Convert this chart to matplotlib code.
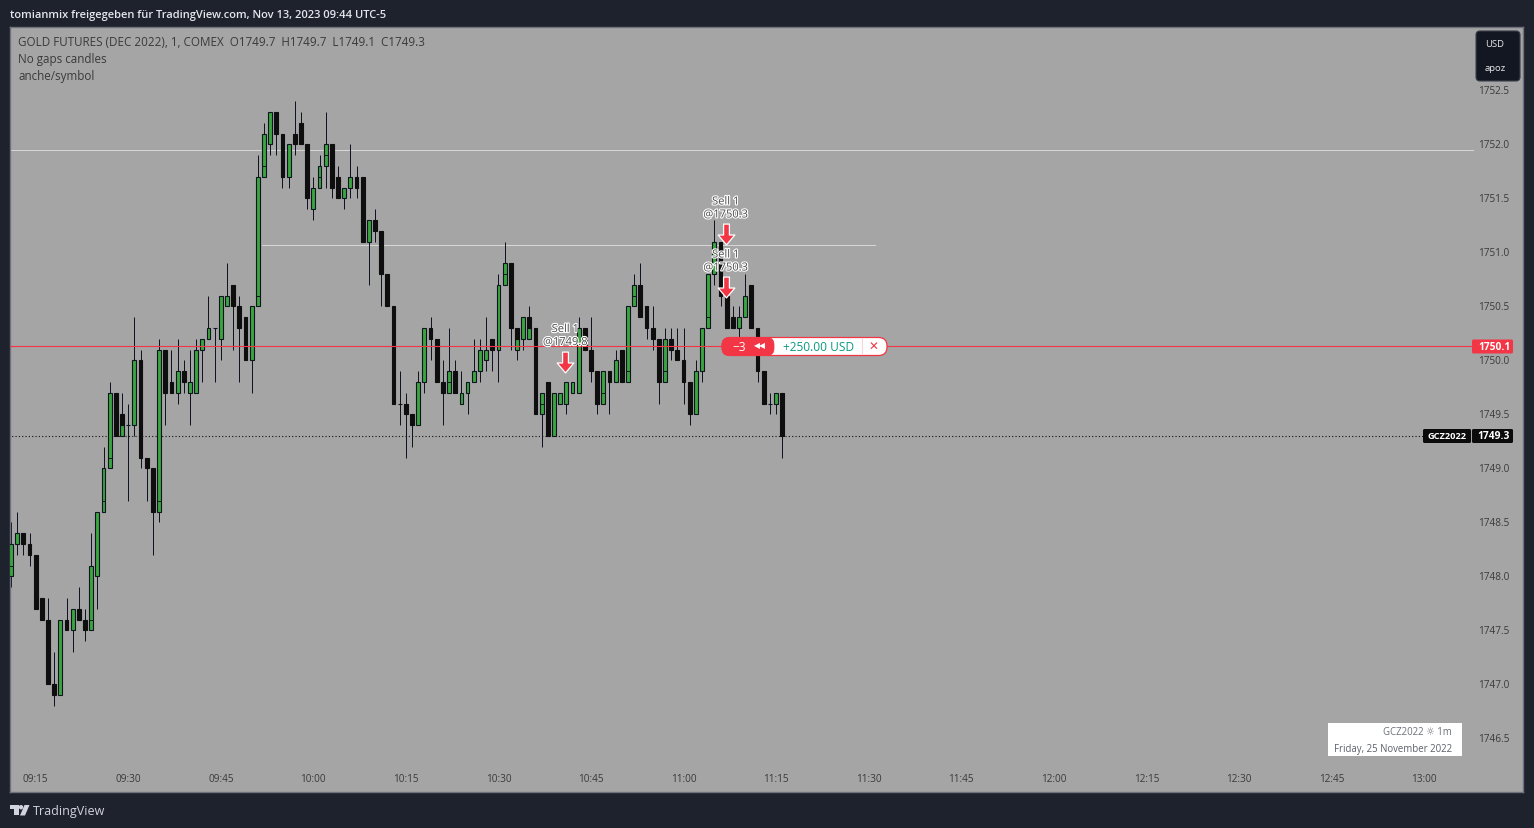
import matplotlib
matplotlib.use('Agg')
import matplotlib.pyplot as plt
import matplotlib.patheffects as pe
import matplotlib.transforms as mtrans
from matplotlib.path import Path
from matplotlib.patches import FancyBboxPatch, Polygon, Rectangle, Circle

plt.rcParams['font.family'] = ['Open Sans', 'DejaVu Sans']

W, H = 1534, 828

# one minute candles, first one is 09:11
opens = [1748.0, 1748.3, 1748.4, 1748.3, 1748.2, 1747.8, 1747.6, 1747.0, 1746.9, 1747.6,
         1747.5, 1747.7, 1747.6, 1747.5, 1748.0, 1748.6, 1749.0, 1749.7, 1749.5, 1749.4,
         1749.4, 1750.0, 1749.1, 1749.0, 1748.6, 1750.1, 1749.8, 1749.7, 1749.9, 1749.7,
         1749.7, 1750.1, 1750.2, 1750.3, 1750.2, 1750.5, 1750.7, 1750.5, 1750.4, 1750.0,
         1750.5, 1751.7, 1752.0, 1752.3, 1752.1, 1751.7, 1752.1, 1752.2, 1752.0, 1751.4,
         1751.6, 1751.8, 1752.0, 1751.7, 1751.5, 1751.6, 1751.7, 1751.7, 1751.1, 1751.3,
         1751.2, 1750.8, 1750.5, 1749.6, 1749.6, 1749.5, 1749.4, 1749.8, 1750.3, 1750.2,
         1749.8, 1749.7, 1749.9, 1749.6, 1749.7, 1749.8, 1749.9, 1750.0, 1750.2, 1750.1,
         1750.7, 1750.9, 1750.3, 1750.2, 1750.4, 1750.3, 1749.5, 1749.8, 1749.3, 1749.6,
         1749.6, 1749.7, 1749.7, 1750.3, 1750.1, 1749.9, 1749.6, 1749.9, 1749.8, 1750.1,
         1749.8, 1750.5, 1750.7, 1750.5, 1750.3, 1750.2, 1749.8, 1750.2, 1750.1, 1750.0,
         1749.8, 1749.5, 1749.9, 1750.3, 1750.8, 1751.1, 1750.6, 1750.4, 1750.3, 1750.4,
         1750.7, 1750.3, 1749.9, 1749.6, 1749.6, 1749.7]
highs = [1748.5, 1748.6, 1748.4, 1748.4, 1748.2, 1747.8, 1747.8, 1747.3, 1747.6, 1747.8,
         1747.7, 1747.9, 1747.7, 1748.4, 1748.6, 1749.2, 1749.8, 1749.7, 1749.7, 1749.6,
         1750.4, 1750.1, 1749.1, 1749.0, 1750.2, 1750.1, 1750.1, 1750.2, 1750.0, 1750.1,
         1750.2, 1750.2, 1750.6, 1750.3, 1750.6, 1750.9, 1750.7, 1750.6, 1750.4, 1750.5,
         1751.9, 1752.2, 1752.3, 1752.3, 1752.1, 1752.0, 1752.4, 1752.3, 1752.0, 1751.7,
         1751.9, 1752.3, 1752.0, 1751.8, 1751.6, 1752.0, 1751.8, 1751.7, 1751.3, 1751.4,
         1751.2, 1750.8, 1750.5, 1749.9, 1749.7, 1749.5, 1749.9, 1750.3, 1750.4, 1750.2,
         1750.0, 1750.3, 1750.0, 1749.9, 1749.8, 1750.2, 1750.2, 1750.4, 1750.2, 1750.8,
         1751.1, 1750.9, 1750.3, 1750.4, 1750.5, 1750.3, 1749.7, 1749.8, 1749.7, 1749.7,
         1749.8, 1749.8, 1750.4, 1750.3, 1750.4, 1749.9, 1749.9, 1749.9, 1750.1, 1750.1,
         1750.5, 1750.8, 1750.9, 1750.5, 1750.5, 1750.2, 1750.3, 1750.3, 1750.3, 1750.3,
         1749.8, 1750.0, 1750.3, 1750.8, 1751.3, 1751.1, 1750.6, 1750.5, 1750.5, 1750.8,
         1750.7, 1750.3, 1749.9, 1749.7, 1749.7, 1749.7]
lows = [1747.9, 1748.2, 1748.2, 1748.1, 1747.7, 1747.6, 1747.0, 1746.8, 1746.9, 1747.5,
        1747.3, 1747.6, 1747.4, 1747.5, 1747.7, 1748.6, 1749.0, 1749.3, 1749.3, 1748.7,
        1749.3, 1749.0, 1748.7, 1748.2, 1748.5, 1749.4, 1749.7, 1749.6, 1749.7, 1749.4,
        1749.7, 1749.8, 1750.2, 1749.8, 1750.0, 1750.5, 1750.1, 1749.8, 1750.0, 1749.7,
        1750.5, 1751.7, 1751.9, 1751.9, 1751.6, 1751.6, 1751.9, 1752.0, 1751.4, 1751.3,
        1751.6, 1751.6, 1751.5, 1751.5, 1751.4, 1751.5, 1751.5, 1751.1, 1750.7, 1751.1,
        1750.5, 1750.5, 1749.6, 1749.4, 1749.1, 1749.2, 1749.4, 1749.7, 1750.0, 1749.8,
        1749.4, 1749.7, 1749.7, 1749.6, 1749.5, 1749.8, 1749.8, 1749.9, 1749.9, 1749.8,
        1750.7, 1750.1, 1750.0, 1750.1, 1750.3, 1749.5, 1749.2, 1749.3, 1749.3, 1749.6,
        1749.5, 1749.7, 1749.7, 1750.1, 1749.8, 1749.5, 1749.6, 1749.5, 1749.8, 1749.8,
        1749.8, 1750.5, 1750.4, 1750.2, 1750.1, 1749.6, 1749.8, 1750.0, 1750.0, 1749.6,
        1749.4, 1749.5, 1749.8, 1750.3, 1750.7, 1750.5, 1750.3, 1750.3, 1750.2, 1750.4,
        1750.3, 1749.8, 1749.6, 1749.5, 1749.5, 1749.1]
closes = [1748.3, 1748.4, 1748.3, 1748.2, 1747.7, 1747.6, 1747.0, 1746.9, 1747.6, 1747.5,
          1747.7, 1747.6, 1747.5, 1748.1, 1748.6, 1749.0, 1749.7, 1749.3, 1749.4, 1749.4,
          1750.0, 1749.1, 1749.0, 1748.6, 1750.1, 1749.7, 1749.7, 1749.9, 1749.8, 1749.8,
          1750.1, 1750.2, 1750.3, 1750.3, 1750.6, 1750.6, 1750.5, 1750.3, 1750.0, 1750.5,
          1751.7, 1752.1, 1752.3, 1752.1, 1751.7, 1752.0, 1752.0, 1752.0, 1751.5, 1751.6,
          1751.8, 1752.0, 1751.6, 1751.5, 1751.6, 1751.7, 1751.6, 1751.1, 1751.3, 1751.2,
          1750.8, 1750.5, 1749.6, 1749.6, 1749.5, 1749.4, 1749.8, 1750.3, 1750.2, 1749.8,
          1749.7, 1749.9, 1749.7, 1749.7, 1749.8, 1749.9, 1750.1, 1750.1, 1750.1, 1750.7,
          1750.9, 1750.3, 1750.2, 1750.4, 1750.3, 1749.5, 1749.7, 1749.3, 1749.7, 1749.7,
          1749.8, 1749.8, 1750.3, 1750.1, 1749.9, 1749.6, 1749.9, 1749.8, 1750.0, 1749.8,
          1750.5, 1750.7, 1750.4, 1750.3, 1750.2, 1749.8, 1750.2, 1750.1, 1750.0, 1749.8,
          1749.5, 1749.9, 1750.3, 1750.8, 1751.1, 1750.6, 1750.3, 1750.3, 1750.4, 1750.6,
          1750.3, 1749.9, 1749.6, 1749.6, 1749.7, 1749.3]

# the real candles peeking out under the no gaps ones
under_idx = [18, 82, 84]
under_open = [1749.3, 1750.1, 1750.2]
under_close = [1749.4, 1750.2, 1750.3]
inner_idx = [0, 13, 15, 16, 24, 40, 41, 50, 51, 71, 80, 86, 96, 100, 101, 106, 113]
inner_price = [1748.1, 1747.6, 1748.7, 1749.1, 1748.7, 1750.6, 1751.8, 1751.7, 1751.9,
               1749.8, 1750.8, 1749.6, 1749.7, 1749.9, 1750.6, 1749.9, 1750.4]

price_ticks = [1746.5, 1747.0, 1747.5, 1748.0, 1748.5, 1749.0, 1749.5, 1750.0,
               1750.5, 1751.0, 1751.5, 1752.0, 1752.5]
time_idx = [4, 19, 34, 49, 64, 79, 94, 109, 124, 139, 154, 169, 184, 199, 214, 229]
time_labels = ['09:15', '09:30', '09:45', '10:00', '10:15', '10:30', '10:45', '11:00',
               '11:15', '11:30', '11:45', '12:00', '12:15', '12:30', '12:45', '13:00']

level_top = 1751.95
level_mid = 1751.065
level_mid_from = 40.7
level_mid_to = 140
position_price = 1750.13
last_price = 1749.3
line_end = 237

sell_idx = [90, 116, 116]
sell_pos = [1749.986, 1751.167, 1750.676]
sell_labels = ['Sell 1\n@1749.8', 'Sell 1\n@1750.3', 'Sell 1\n@1750.3']

GREEN = '#3aa63e'
DARK = '#0e0e0e'
EDGE = '#0f1420'
BG = '#1e222d'
PANE = '#a5a5a5'
RED = '#f23645'
TEAL = '#089981'
TXT = '#3a3a3a'

# 8.28*100 floors to 827 px, so nudge the size a bit
fig = plt.figure(figsize=((W + 0.01) / 100, (H + 0.01) / 100), dpi=100, facecolor=BG)
ax = fig.add_axes([10 / W, (H - 792.5) / H, (1523 - 10) / W, (792.5 - 27) / H])
ax.set_facecolor(PANE)
ax.set_xlim(-1 / 6.17, (1523 - 11) / 6.17)
ax.set_ylim(1750 - 432 / 108, 1750 + 333.5 / 108)
for s in ax.spines.values():
    s.set_color('#6f727c')
    s.set_linewidth(1)

ax.yaxis.tick_right()
ax.set_yticks(price_ticks)
ax.set_yticklabels(['%.1f' % p for p in price_ticks])
ax.tick_params(axis='y', length=0, pad=-32, labelsize=7.2, labelcolor=TXT)
ax.set_xticks(time_idx)
ax.set_xticklabels(time_labels)
ax.tick_params(axis='x', length=0, pad=-13.5, labelsize=7.2, labelcolor=TXT)
lift = mtrans.Affine2D().translate(0, 0.5)
for t in ax.get_yticklabels():
    t.set_transform(t.get_transform() + lift)

ax.plot([-1, line_end], [level_top, level_top], color='#d6d6d6', lw=0.72, zorder=1)
ax.plot([level_mid_from, level_mid_to], [level_mid, level_mid], color='#d6d6d6', lw=0.72, zorder=1)
ax.plot([-1, 228.8], [last_price, last_price], color='#111111', lw=0.8, ls=(0, (1, 2)), zorder=1)

xs = list(range(len(opens)))
ax.vlines(xs, lows, highs, color=EDGE, lw=0.72, zorder=2)
ax.bar(under_idx, [c - o for o, c in zip(under_open, under_close)], bottom=under_open,
       width=0.62, color=GREEN, edgecolor=EDGE, linewidth=0.8, zorder=3)
for i in xs:
    col = GREEN if closes[i] >= opens[i] else DARK
    lo = min(opens[i], closes[i])
    ax.bar(i, abs(closes[i] - opens[i]), bottom=lo, width=0.62, color=col,
           edgecolor=EDGE if col == GREEN else DARK, linewidth=0.8, zorder=3)
ax.hlines(inner_price, [i - 0.31 for i in inner_idx], [i + 0.31 for i in inner_idx],
          color=EDGE, lw=0.7, zorder=4)

ax.plot([-1, line_end], [position_price, position_price], color=RED, lw=0.8, zorder=5)

arrow = Path([(-0.28, 1), (0.28, 1), (0.28, -0.05), (0.8, -0.05), (0, -1), (-0.8, -0.05),
              (-0.28, -0.05), (-0.28, 1)], closed=True)
halo = [pe.withStroke(linewidth=1.6, foreground='white')]
for i, p, lab in zip(sell_idx, sell_pos, sell_labels):
    ax.plot(i - 0.15, p, marker=arrow, ms=15, mfc=RED, mec='white', mew=0.9, zorder=7, ls='none')
    ax.annotate(lab, xy=(i, p), xytext=(-1, 26), textcoords='offset pixels', ha='center',
                va='center', fontsize=8, color='#4a4a4a', linespacing=1.25, zorder=8,
                path_effects=halo)

# everything that is screen furniture goes on a pixel overlay
ov = fig.add_axes([0, 0, 1, 1], zorder=10)
ov.set_xlim(0, W)
ov.set_ylim(H, 0)
ov.axis('off')


def rbox(x0, y0, x1, y1, r, fc, ec='none', lw=0, z=2):
    ov.add_patch(FancyBboxPatch((x0 + r, y0 + r), x1 - x0 - 2 * r, y1 - y0 - 2 * r,
                                boxstyle='round,pad=%f,rounding_size=%f' % (r, r),
                                fc=fc, ec=ec, lw=lw, zorder=z))


def label(x, y, s, size=7.2, color=TXT, ha='left', weight='normal', z=5):
    ov.text(x, y, s, fontsize=size, color=color, ha=ha, va='center', fontweight=weight, zorder=z)


label(10, 15, 'tomianmix freigegeben für TradingView.com, Nov 13, 2023 09:44 UTC-5',
      size=8, color='#e4e6ec', weight='semibold')
label(18, 42, 'GOLD FUTURES (DEC 2022), 1, COMEX  O1749.7  H1749.7  L1749.1  C1749.3', size=8.35)
label(18, 59.5, 'No gaps candles', size=8.35)
label(18, 76.5, 'anche/symbol', size=8.35)

rbox(1476, 31, 1520, 81, 4, '#131722', '#3b3f4a', 0.8)
label(1485, 44, 'USD', size=6.8, color='#e8e8ea')
label(1485, 68.5, 'apoz', size=6.8, color='#e8e8ea')

# position pill
rbox(722, 337.5, 887, 355.5, 8.5, 'white', RED, 0.9)
rbox(722, 337.5, 774, 355.5, 7, RED, RED, 0.5, z=3)
ov.plot([862, 862], [338.5, 354.5], color='#f7d5d8', lw=0.8, zorder=4)
label(739, 347, '−3', size=8.6, color='white', ha='center')
label(760, 346.5, '◀◀', size=5.6, color='white', ha='center')
label(819, 347, '+250.00 USD', size=8.6, color=TEAL, ha='center')
label(873, 347, '✕', size=8.6, color=RED, ha='center')

# price scale tags
rbox(1472, 339.5, 1513, 353.5, 1.5, RED)
label(1494, 347, '1750.1', size=7.4, color='white', ha='center', weight='bold')
rbox(1423, 429, 1471, 443, 1.5, '#0b0b0b')
rbox(1472, 429, 1513, 443, 1.5, '#0b0b0b')
label(1446.5, 436.5, 'GCZ2022', size=6.7, color='white', ha='center', weight='bold')
label(1494, 436.5, '1749.3', size=7.4, color='white', ha='center', weight='bold')

# watermark box
ov.add_patch(Rectangle((1327.5, 723.5), 134.5, 33, fc='white', ec='none', zorder=2))
label(1452, 732.5, 'GCZ2022 ☼ 1m', size=6.9, color='#6d7079', ha='right')
label(1452, 749, 'Friday, 25 November 2022', size=6.9, color='#5d606b', ha='right')

# logo
logo = '#d1d4dc'
ov.add_patch(Polygon([(10, 805), (18.5, 805), (18.5, 815.5), (14, 815.5), (14, 809.5), (10, 809.5)],
                     fc=logo, ec='none'))
ov.add_patch(Circle((21, 807.2), 2.2, fc=logo, ec='none'))
ov.add_patch(Polygon([(24.5, 805), (29.5, 805), (25, 815.5), (20, 815.5)], fc=logo, ec='none'))
label(33, 811, 'TradingView', size=9, color=logo)

fig.savefig('out.png', dpi=100, facecolor=BG)
